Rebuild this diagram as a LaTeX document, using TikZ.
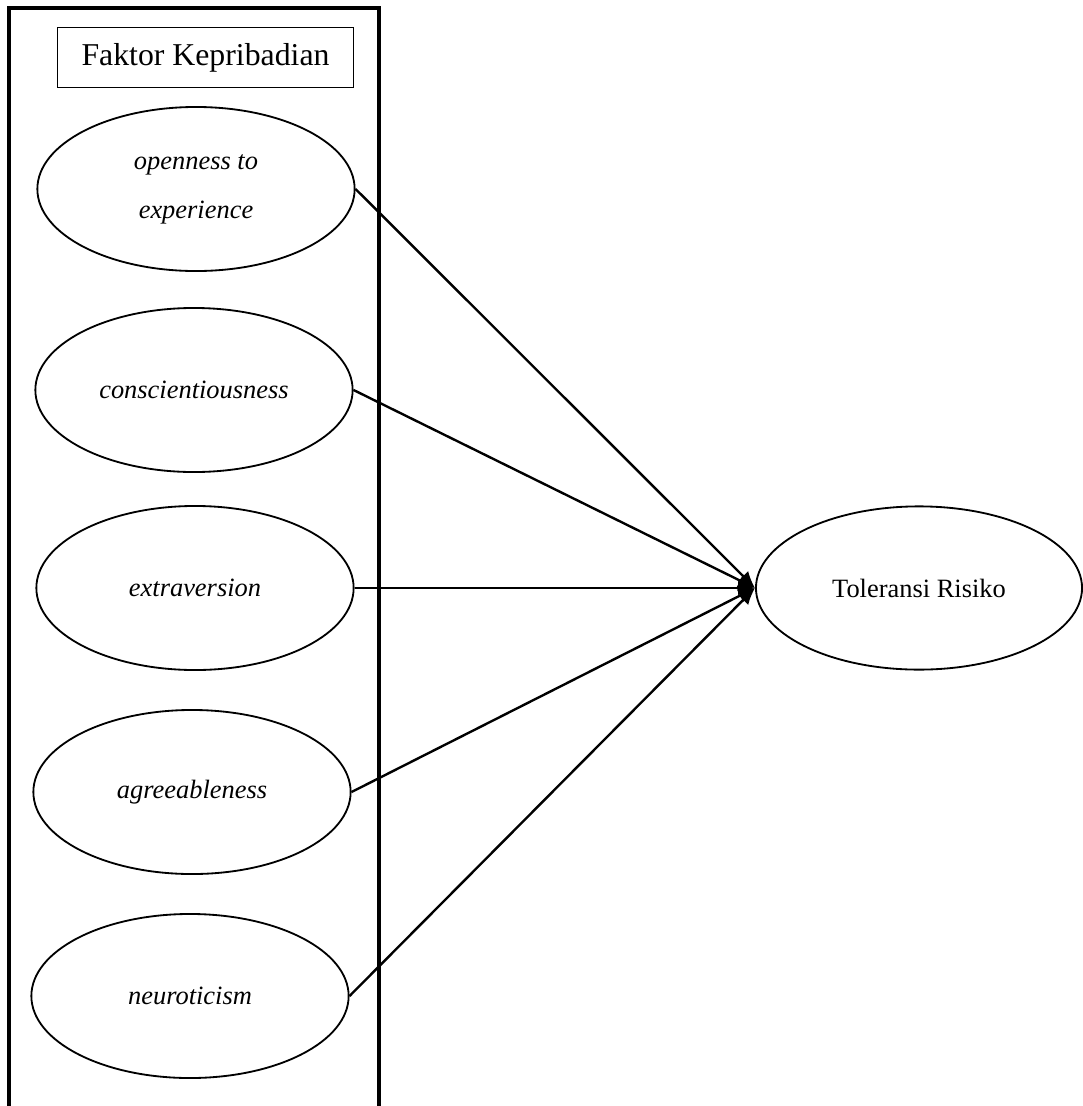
\documentclass[tikz,border=0pt]{standalone}
\usepackage{fontspec}
\setmainfont{Liberation Serif}
\usetikzlibrary{arrows.meta,positioning,shapes.geometric}

\begin{document}
\begin{tikzpicture}[
  x=0.025cm, y=-0.025cm,
  font=\fontsize{18.8pt}{22pt}\selectfont,
  >={Latex[length=0.42cm,width=0.36cm]},
  trait/.style={
    draw,
    ellipse,
    line width=1.3pt,
    minimum width=7.93cm,
    minimum height=4.1cm,
    inner sep=0pt,
    align=center,
    font=\fontsize{18.8pt}{35pt}\selectfont\itshape
  },
  target/.style={
    draw,
    ellipse,
    line width=1.3pt,
    minimum width=8.15cm,
    minimum height=4.08cm,
    inner sep=0pt
  },
  title/.style={
    draw,
    line width=0.8pt,
    minimum width=7.38cm,
    minimum height=1.48cm,
    font=\fontsize{22.6pt}{26pt}\selectfont
  },
  frame/.style={draw, line width=2.2pt},
  arr/.style={->, line width=1.7pt}
]

\clip (0,0) rectangle (1083,1106);
\useasboundingbox (0,0) rectangle (1083,1106);

% ===== Group frame (runs past the bottom) =====
\draw[frame] (9,8) rectangle (379,1140);
\node[title] (head) at (205.5,57.5) {Faktor Kepribadian};

% ===== Personality traits =====
\node[trait] (open)  at (196,189) {openness to\\experience};
\node[trait] (consc) at (194,390) {conscientiousness};
\node[trait] (extra) at (195,588) {extraversion};
\node[trait] (agree) at (192,792) {agreeableness};
\node[trait] (neuro) at (190,996) {neuroticism};

% ===== Outcome =====
\node[target] (risk) at (919,588) {Toleransi Risiko};

\draw[arr] (open.east)  -- (risk.west);
\draw[arr] (consc.east) -- (risk.west);
\draw[arr] (extra.east) -- (risk.west);
\draw[arr] (agree.east) -- (risk.west);
\draw[arr] (neuro.east) -- (risk.west);

\end{tikzpicture}
\end{document}
